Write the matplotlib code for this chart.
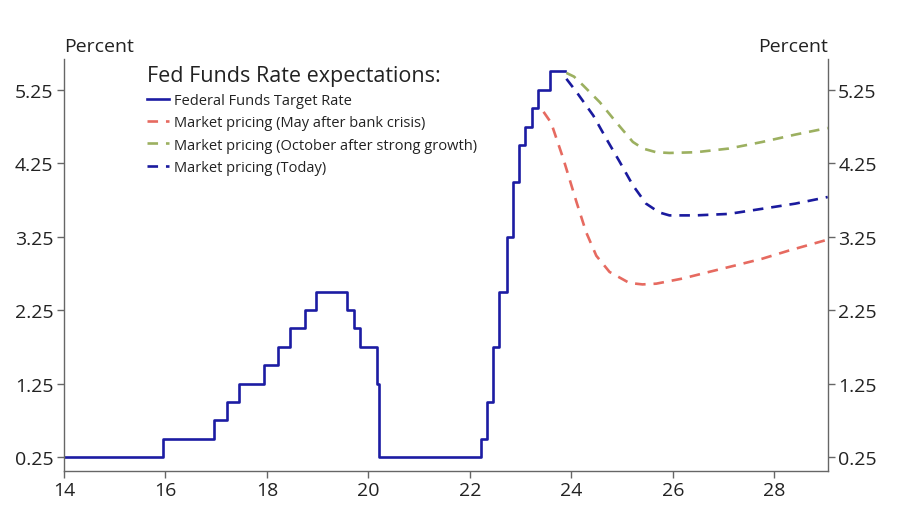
import matplotlib.pyplot as plt

plt.rcParams['font.family'] = ['Open Sans', 'DejaVu Sans']

# Fed funds target rate (upper bound); x = years since 2000
ffr_dates = [14.0, 15.96, 16.95, 17.21, 17.45, 17.95, 18.22, 18.45, 18.74, 18.97,
             19.58, 19.72, 19.83, 20.17, 20.21, 22.21, 22.34, 22.46, 22.57, 22.73,
             22.84, 22.96, 23.09, 23.23, 23.34, 23.57, 23.88]
ffr_values = [0.25, 0.50, 0.75, 1.00, 1.25, 1.50, 1.75, 2.00, 2.25, 2.50,
              2.25, 2.00, 1.75, 1.25, 0.25, 0.50, 1.00, 1.75, 2.50, 3.25,
              4.00, 4.50, 4.75, 5.00, 5.25, 5.50, 5.50]

# Market pricing curves
may_x = [23.45, 23.60, 23.84, 24.10, 24.29, 24.49, 24.75, 25.14, 25.40, 25.67,
         26.19, 26.71, 27.24, 27.76, 28.28, 29.05]
may_y = [4.95, 4.80, 4.31, 3.72, 3.31, 2.99, 2.77, 2.62, 2.60, 2.61,
         2.68, 2.77, 2.86, 2.95, 3.06, 3.21]

oct_x = [23.90, 24.05, 24.23, 24.56, 24.88, 25.21, 25.41, 25.67, 25.93, 26.45,
         27.10, 27.76, 28.41, 29.05]
oct_y = [5.48, 5.43, 5.31, 5.08, 4.81, 4.54, 4.45, 4.40, 4.39, 4.40,
         4.45, 4.54, 4.64, 4.73]

today_x = [23.90, 24.10, 24.43, 24.69, 24.95, 25.21, 25.47, 25.73, 25.93, 26.45,
           27.10, 27.76, 28.41, 29.05]
today_y = [5.40, 5.22, 4.90, 4.58, 4.27, 3.95, 3.70, 3.58, 3.54, 3.54,
           3.56, 3.63, 3.70, 3.79]

yticks = [0.25, 1.25, 2.25, 3.25, 4.25, 5.25]
xticks = [14, 16, 18, 20, 22, 24, 26, 28]

fig = plt.figure(figsize=(9, 5.1), dpi=100)
ax = fig.add_axes([0.0711, 0.0751, 0.8486, 0.8073])

ax.step(ffr_dates, ffr_values, where='post', color='#1c1ca3', lw=1.9,
        label='Federal Funds Target Rate')
ax.plot(may_x, may_y, color='#e66a60', lw=1.9, dashes=(4, 3),
        label='Market pricing (May after bank crisis)')
ax.plot(oct_x, oct_y, color='#9cb060', lw=1.9, dashes=(4, 3),
        label='Market pricing (October after strong growth)')
ax.plot(today_x, today_y, color='#1a1a9e', lw=1.9, dashes=(4, 3),
        label='Market pricing (Today)')

ax.set_xlim(14, 29.05)
ax.set_ylim(0.063, 5.67)
ax.set_xticks(xticks)
ax.set_yticks(yticks)
ax.set_yticklabels([f'{v:.2f}' for v in yticks])
ax.tick_params(axis='both', labelsize=14, colors='#222222', color='#666666',
               length=5, width=1, pad=2.5, right=True, labelright=True)

for side in ['left', 'right', 'bottom']:
    ax.spines[side].set_color('#666666')
    ax.spines[side].set_linewidth(1)
ax.spines['top'].set_visible(False)

ax.text(0, 1.02, 'Percent', transform=ax.transAxes, ha='left', va='baseline',
        fontsize=14, color='#222222')
ax.text(1, 1.02, 'Percent', transform=ax.transAxes, ha='right', va='baseline',
        fontsize=14, color='#222222')

leg = ax.legend(loc='upper left', bbox_to_anchor=(0.092, 1.018), frameon=False,
                title='Fed Funds Rate expectations:', title_fontsize=15.5,
                fontsize=10.5, handlelength=1.5, handletextpad=0.3,
                labelspacing=0.5, alignment='left')
for t in leg.get_texts():
    t.set_color('#222222')
leg.get_title().set_color('#222222')

fig.savefig('out.png', dpi=100)
